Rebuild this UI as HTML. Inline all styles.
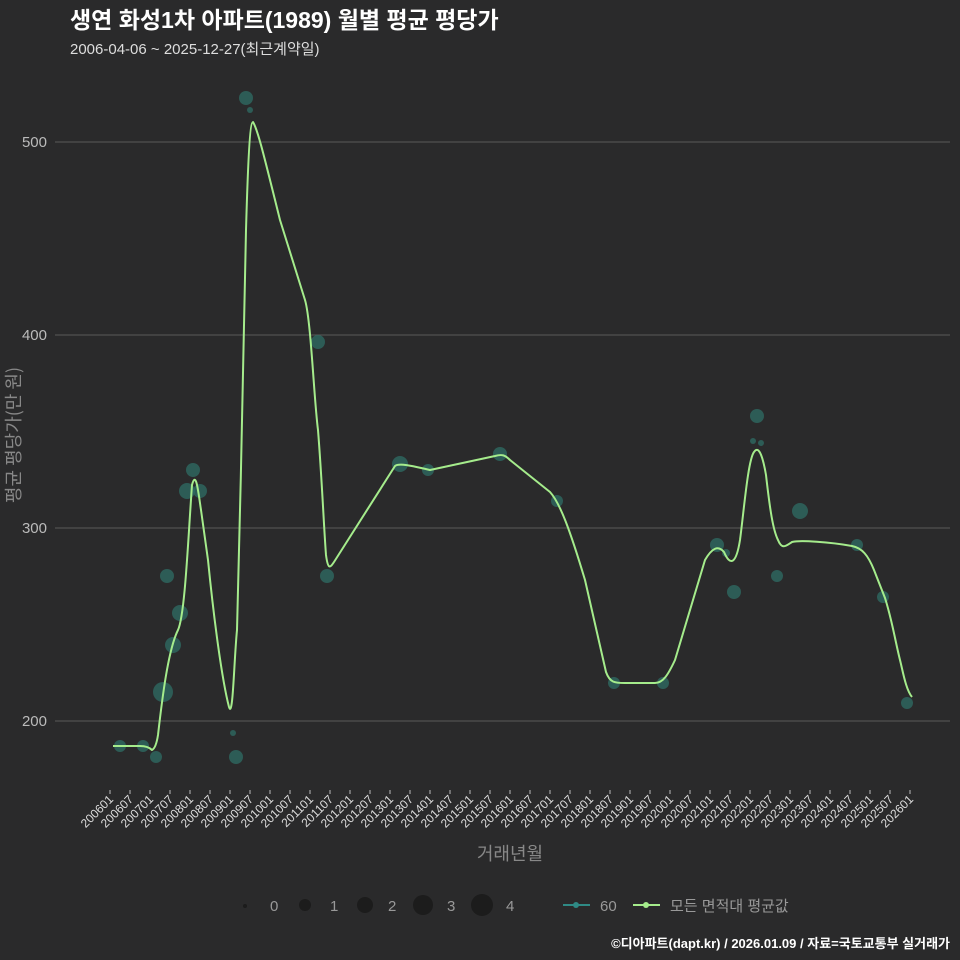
<!DOCTYPE html>
<html><head><meta charset="utf-8"><style>
body{margin:0;background:#2a2a2b;}
svg{display:block;font-family:"Liberation Sans","Noto Sans CJK KR",sans-serif;}
</style></head><body>
<svg width="960" height="960" viewBox="0 0 960 960">
<rect width="960" height="960" fill="#2a2a2b"/>
<text x="70" y="28" fill="#fff" font-size="23" font-weight="bold">생연 화성1차 아파트(1989) 월별 평균 평당가</text>
<text x="70" y="54" fill="#ddd" font-size="15">2006-04-06 ~ 2025-12-27(최근계약일)</text>
<g stroke="#5a5a5a" stroke-width="1">
<line x1="55" y1="142" x2="950" y2="142"/><line x1="55" y1="335" x2="950" y2="335"/>
<line x1="55" y1="528" x2="950" y2="528"/><line x1="55" y1="721" x2="950" y2="721"/>
</g>
<g fill="#bbb" font-size="15" text-anchor="end">
<text x="47" y="147">500</text><text x="47" y="340">400</text><text x="47" y="533">300</text><text x="47" y="726">200</text>
</g>
<text transform="translate(20,435) rotate(-90)" fill="#888" font-size="18" text-anchor="middle" font-family="Noto Sans CJK KR, sans-serif">평균 평당가(만 원)</text>
<g stroke="#bbb">
<line x1="110" y1="790" x2="110" y2="794"/><line x1="130" y1="790" x2="130" y2="794"/><line x1="150" y1="790" x2="150" y2="794"/><line x1="170" y1="790" x2="170" y2="794"/><line x1="190" y1="790" x2="190" y2="794"/><line x1="210" y1="790" x2="210" y2="794"/><line x1="230" y1="790" x2="230" y2="794"/><line x1="250" y1="790" x2="250" y2="794"/><line x1="270" y1="790" x2="270" y2="794"/><line x1="290" y1="790" x2="290" y2="794"/><line x1="310" y1="790" x2="310" y2="794"/><line x1="330" y1="790" x2="330" y2="794"/><line x1="350" y1="790" x2="350" y2="794"/><line x1="370" y1="790" x2="370" y2="794"/><line x1="390" y1="790" x2="390" y2="794"/><line x1="410" y1="790" x2="410" y2="794"/><line x1="430" y1="790" x2="430" y2="794"/><line x1="450" y1="790" x2="450" y2="794"/><line x1="470" y1="790" x2="470" y2="794"/><line x1="490" y1="790" x2="490" y2="794"/><line x1="510" y1="790" x2="510" y2="794"/><line x1="530" y1="790" x2="530" y2="794"/><line x1="550" y1="790" x2="550" y2="794"/><line x1="570" y1="790" x2="570" y2="794"/><line x1="590" y1="790" x2="590" y2="794"/><line x1="610" y1="790" x2="610" y2="794"/><line x1="630" y1="790" x2="630" y2="794"/><line x1="650" y1="790" x2="650" y2="794"/><line x1="670" y1="790" x2="670" y2="794"/><line x1="690" y1="790" x2="690" y2="794"/><line x1="710" y1="790" x2="710" y2="794"/><line x1="730" y1="790" x2="730" y2="794"/><line x1="750" y1="790" x2="750" y2="794"/><line x1="770" y1="790" x2="770" y2="794"/><line x1="790" y1="790" x2="790" y2="794"/><line x1="810" y1="790" x2="810" y2="794"/><line x1="830" y1="790" x2="830" y2="794"/><line x1="850" y1="790" x2="850" y2="794"/><line x1="870" y1="790" x2="870" y2="794"/><line x1="890" y1="790" x2="890" y2="794"/><line x1="910" y1="790" x2="910" y2="794"/>
</g>
<g fill="#ddd" font-size="12" text-anchor="end">
<text transform="translate(114,800) rotate(-45)">200601</text><text transform="translate(134,800) rotate(-45)">200607</text><text transform="translate(154,800) rotate(-45)">200701</text><text transform="translate(174,800) rotate(-45)">200707</text><text transform="translate(194,800) rotate(-45)">200801</text><text transform="translate(214,800) rotate(-45)">200807</text><text transform="translate(234,800) rotate(-45)">200901</text><text transform="translate(254,800) rotate(-45)">200907</text><text transform="translate(274,800) rotate(-45)">201001</text><text transform="translate(294,800) rotate(-45)">201007</text><text transform="translate(314,800) rotate(-45)">201101</text><text transform="translate(334,800) rotate(-45)">201107</text><text transform="translate(354,800) rotate(-45)">201201</text><text transform="translate(374,800) rotate(-45)">201207</text><text transform="translate(394,800) rotate(-45)">201301</text><text transform="translate(414,800) rotate(-45)">201307</text><text transform="translate(434,800) rotate(-45)">201401</text><text transform="translate(454,800) rotate(-45)">201407</text><text transform="translate(474,800) rotate(-45)">201501</text><text transform="translate(494,800) rotate(-45)">201507</text><text transform="translate(514,800) rotate(-45)">201601</text><text transform="translate(534,800) rotate(-45)">201607</text><text transform="translate(554,800) rotate(-45)">201701</text><text transform="translate(574,800) rotate(-45)">201707</text><text transform="translate(594,800) rotate(-45)">201801</text><text transform="translate(614,800) rotate(-45)">201807</text><text transform="translate(634,800) rotate(-45)">201901</text><text transform="translate(654,800) rotate(-45)">201907</text><text transform="translate(674,800) rotate(-45)">202001</text><text transform="translate(694,800) rotate(-45)">202007</text><text transform="translate(714,800) rotate(-45)">202101</text><text transform="translate(734,800) rotate(-45)">202107</text><text transform="translate(754,800) rotate(-45)">202201</text><text transform="translate(774,800) rotate(-45)">202207</text><text transform="translate(794,800) rotate(-45)">202301</text><text transform="translate(814,800) rotate(-45)">202307</text><text transform="translate(834,800) rotate(-45)">202401</text><text transform="translate(854,800) rotate(-45)">202407</text><text transform="translate(874,800) rotate(-45)">202501</text><text transform="translate(894,800) rotate(-45)">202507</text><text transform="translate(914,800) rotate(-45)">202601</text>
</g>
<text x="510" y="860" fill="#888" font-size="18" text-anchor="middle">거래년월</text>
<g fill="#2f6e66" fill-opacity="0.75">
<circle cx="120" cy="746" r="6"/><circle cx="143" cy="746" r="6"/><circle cx="156" cy="757" r="6"/>
<circle cx="163" cy="692" r="10"/><circle cx="167" cy="576" r="7"/><circle cx="173" cy="645" r="8"/>
<circle cx="180" cy="613" r="8"/><circle cx="187" cy="491" r="8"/><circle cx="193" cy="470" r="7"/>
<circle cx="200" cy="491" r="7"/><circle cx="236" cy="757" r="7"/><circle cx="233" cy="733" r="3"/>
<circle cx="246" cy="98" r="7"/><circle cx="250" cy="110" r="3"/><circle cx="318" cy="342" r="7"/>
<circle cx="327" cy="576" r="7"/><circle cx="400" cy="464" r="8"/><circle cx="428" cy="470" r="6"/>
<circle cx="500" cy="454" r="7"/><circle cx="557" cy="501" r="6"/><circle cx="614" cy="683" r="6"/>
<circle cx="663" cy="683" r="6"/><circle cx="717" cy="545" r="7"/><circle cx="734" cy="592" r="7"/>
<circle cx="757" cy="416" r="7"/><circle cx="753" cy="441" r="3"/><circle cx="761" cy="443" r="3"/>
<circle cx="777" cy="576" r="6"/><circle cx="800" cy="511" r="8"/><circle cx="857" cy="545" r="6"/>
<circle cx="883" cy="597" r="6"/><circle cx="907" cy="703" r="6"/><circle cx="726" cy="553" r="4"/>
</g>
<path fill="none" stroke="#a5ec8c" stroke-width="2" stroke-linejoin="round" d="M113,746 L140,746 Q148,746 152,750 Q156,748 158,735 C162,700 168,650 178,630 C185,615 188,540 192,485 C196,470 198,490 201,510 L208,560 C214,620 222,680 229,707 C233,720 234,660 237,630 C241,500 244,300 246,230 C248,160 250,122 253,122 C258,130 265,160 280,220 L305,300 C311,320 314,400 318,430 C322,480 324,530 326,555 C328,570 330,568 334,562 L395,466 C400,462 420,468 430,470 L495,456 C502,454 505,455 510,460 L550,492 C560,503 570,530 585,580 L606,672 C610,683 615,683 625,683 L655,683 C663,683 668,675 675,660 L705,560 C712,548 718,545 724,552 C730,566 736,565 740,540 C744,510 748,460 754,452 C758,446 762,452 766,475 C770,510 773,530 778,540 C782,550 786,546 792,542 C800,540 830,542 852,546 C862,548 868,555 874,570 L885,598 C892,620 895,640 900,660 C903,672 906,690 912,697"/>
<g font-size="15" fill="#999">
<circle cx="245" cy="906" r="2" fill="#1c1c1c"/><text x="270" y="911">0</text>
<circle cx="305" cy="905" r="6" fill="#1c1c1c"/><text x="330" y="911">1</text>
<circle cx="365" cy="905" r="8" fill="#1c1c1c"/><text x="388" y="911">2</text>
<circle cx="423" cy="905" r="10" fill="#1c1c1c"/><text x="447" y="911">3</text>
<circle cx="482" cy="905" r="11" fill="#1c1c1c"/><text x="506" y="911">4</text>
<line x1="563" y1="905" x2="590" y2="905" stroke="#2f8a85" stroke-width="2"/><circle cx="576" cy="905" r="3" fill="#2f8a85"/><text x="600" y="911">60</text>
<line x1="633" y1="905" x2="660" y2="905" stroke="#a5ec8c" stroke-width="2"/><circle cx="646" cy="905" r="3" fill="#a5ec8c"/><text x="670" y="911">모든 면적대 평균값</text>
</g>
<text x="950" y="948" fill="#fff" font-size="13" font-weight="bold" text-anchor="end">©디아파트(dapt.kr) / 2026.01.09 / 자료=국토교통부 실거래가</text>
</svg>
</body></html>
